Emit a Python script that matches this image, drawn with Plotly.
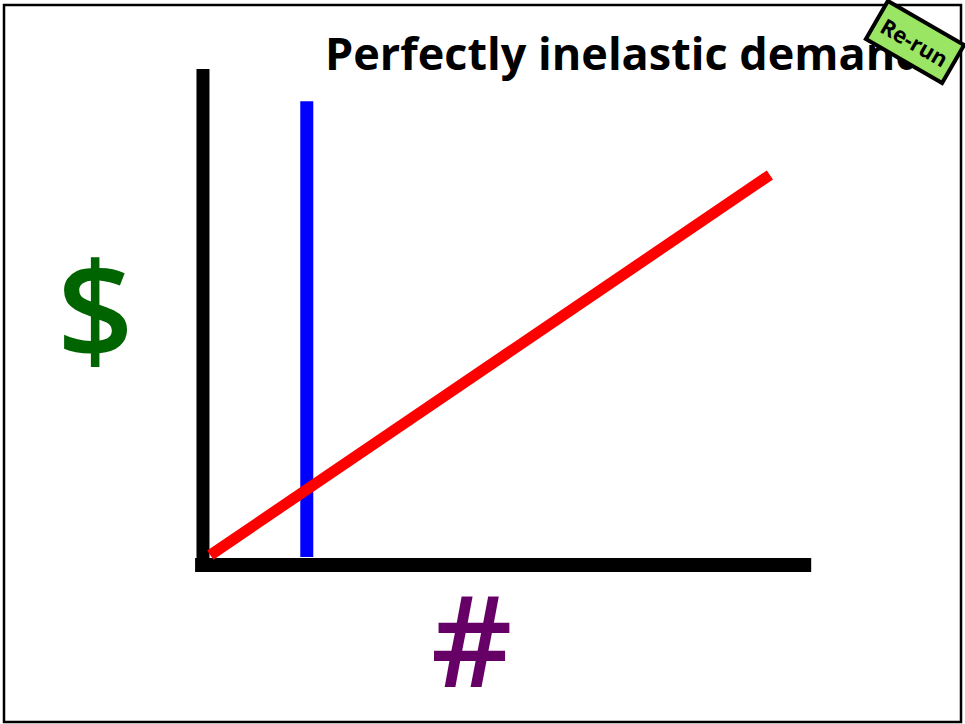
import plotly.graph_objects as go

# Conceptual data (quantity on x, price on y)
x_axis_q = [-0.13, 10.02]
x_axis_p = [0.0, 0.0]
y_axis_q = [0.0, 0.0]
y_axis_p = [-0.14, 10.02]
demand_q = [1.71, 1.71]
demand_p = [0.16, 9.37]
supply_q = [0.12, 9.34]
supply_p = [0.20, 7.88]

title_text = "Perfectly inelastic demand"
y_label = "$"
x_label = "#"

FONT = "Open Sans"

fig = go.Figure()
fig.add_trace(go.Scatter(x=y_axis_q, y=y_axis_p, mode="lines",
                         line=dict(color="black", width=13), hoverinfo="skip"))
fig.add_trace(go.Scatter(x=x_axis_q, y=x_axis_p, mode="lines",
                         line=dict(color="black", width=14), hoverinfo="skip"))
fig.add_trace(go.Scatter(x=demand_q, y=demand_p, mode="lines",
                         line=dict(color="#0000ff", width=13), hoverinfo="skip"))
fig.add_trace(go.Scatter(x=supply_q, y=supply_p, mode="lines",
                         line=dict(color="#ff0000", width=11), hoverinfo="skip"))

W, H = 965, 724
fig.update_layout(
    width=W, height=H,
    margin=dict(l=0, r=0, t=0, b=0),
    paper_bgcolor="white", plot_bgcolor="white",
    showlegend=False,
    xaxis=dict(range=[-3.344, 12.554], visible=False, fixedrange=True),
    yaxis=dict(range=[-3.212, 11.414], visible=False, fixedrange=True),
    shapes=[dict(type="rect", xref="paper", yref="paper",
                 x0=4 / W, x1=961 / W, y0=1 - 722 / H, y1=1 - 5 / H,
                 line=dict(color="black", width=2.5))],
    annotations=[
        dict(text=title_text, xref="paper", yref="paper",
             x=624 / W, y=1 - 52 / H, xanchor="center", yanchor="middle",
             showarrow=False,
             font=dict(family=FONT, size=45, color="black", weight=700)),
        dict(text=y_label, xref="paper", yref="paper",
             x=95 / W, y=1 - 307 / H, xanchor="center", yanchor="middle",
             showarrow=False,
             font=dict(family=FONT, size=134, color="#006400", weight=600)),
        dict(text=x_label, xref="paper", yref="paper",
             x=471 / W, y=1 - 638 / H, xanchor="center", yanchor="middle",
             showarrow=False,
             font=dict(family=FONT, size=126, color="#660066", weight=600)),
        dict(text="Re-run", xref="paper", yref="paper",
             x=915 / W, y=1 - 42 / H, xanchor="center", yanchor="middle",
             showarrow=False, textangle=30,
             font=dict(family=FONT, size=22, color="black", weight=700),
             bgcolor="#9be564", bordercolor="black", borderwidth=4, borderpad=5),
    ],
)
fig.write_html("out.html", config={"displayModeBar": False},
               post_script="document.body.style.margin='0';")
